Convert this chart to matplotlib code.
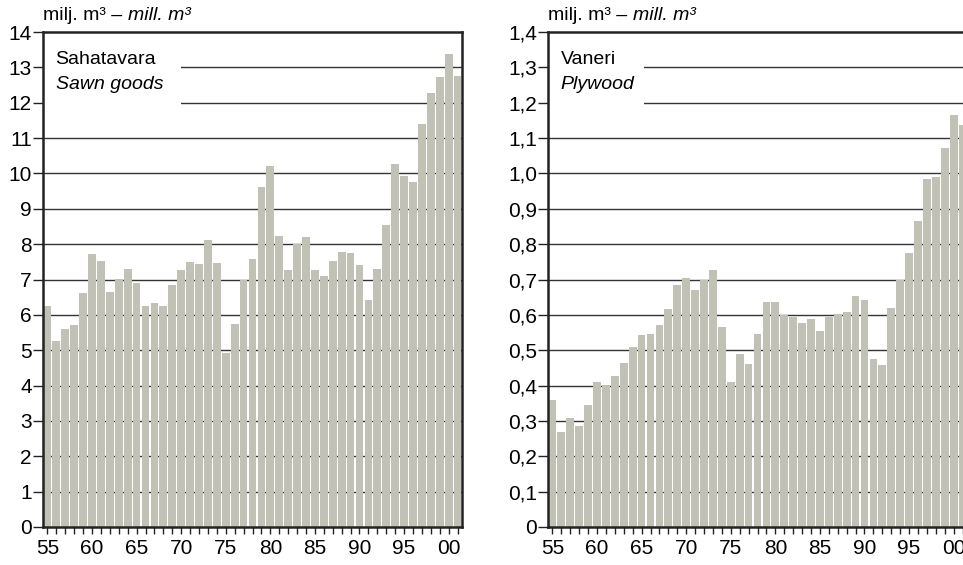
import matplotlib
matplotlib.use("Agg")
import matplotlib.pyplot as plt
from matplotlib.patches import Rectangle
from matplotlib.font_manager import fontManager

names = {f.name for f in fontManager.ttflist}
FONT = "Liberation Sans Narrow" if "Liberation Sans Narrow" in names else "Liberation Sans"
plt.rcParams["font.family"] = [FONT, "DejaVu Sans"]

years = list(range(1955, 2002))

# sawn goods, million m3
sawn = [6.24, 5.26, 5.61, 5.70, 6.62, 7.71, 7.53, 6.64, 7.02, 7.29,
        6.90, 6.25, 6.34, 6.25, 6.85, 7.28, 7.50, 7.44, 8.12, 7.47,
        4.91, 5.74, 6.98, 7.59, 9.62, 10.22, 8.24, 7.28, 7.99, 8.21,
        7.28, 7.09, 7.51, 7.77, 7.75, 7.41, 6.42, 7.30, 8.55, 10.27,
        9.92, 9.76, 11.41, 12.27, 12.74, 13.38, 12.75]

# plywood, million m3
plywood = [0.359, 0.269, 0.308, 0.285, 0.345, 0.409, 0.403, 0.426, 0.464, 0.509,
           0.542, 0.546, 0.571, 0.616, 0.685, 0.703, 0.669, 0.698, 0.727, 0.565,
           0.411, 0.488, 0.460, 0.546, 0.636, 0.636, 0.600, 0.593, 0.577, 0.588,
           0.554, 0.593, 0.603, 0.607, 0.654, 0.641, 0.475, 0.459, 0.618, 0.699,
           0.775, 0.866, 0.985, 0.990, 1.073, 1.166, 1.138]

xtick_years = [1955, 1960, 1965, 1970, 1975, 1980, 1985, 1990, 1995, 2000]
xtick_labels = ["55", "60", "65", "70", "75", "80", "85", "90", "95", "00"]

sawn_ticks = list(range(0, 15))
sawn_labels = [str(v) for v in sawn_ticks]
ply_ticks = [i / 10 for i in range(0, 15)]
ply_labels = ["0"] + [("%.1f" % v).replace(".", ",") for v in ply_ticks[1:]]

BAR = "#c1c1b5"
DARK = "#222222"
W, H = 963, 565

fig = plt.figure(figsize=(W / 100, H / 100), dpi=100)


def panel(x0, values, ymax, ticks, labels, name, name_en, box_w):
    ax = fig.add_axes([x0 / W, 1 - 527 / H, 419 / W, 495 / H])
    ax.bar(years, values, width=0.87, color=BAR, zorder=2)
    ax.set_xlim(1954.5, 2001.5)
    ax.set_ylim(0, ymax)
    ax.set_yticks(ticks)
    ax.set_yticklabels(labels)
    ax.set_xticks(years, minor=True)
    ax.set_xticks(xtick_years)
    ax.set_xticklabels(xtick_labels)
    ax.tick_params(axis="y", direction="out", length=7, width=1, color=DARK,
                   labelsize=15, pad=1)
    ax.tick_params(axis="x", which="both", direction="out", length=5, width=1,
                   color=DARK, labelsize=15, pad=4)
    for t in ticks[1:-1]:
        ax.axhline(t, color="#333333", lw=1.0, zorder=1)
    for s in ax.spines.values():
        s.set_color(DARK)
        s.set_linewidth(1.8)
        s.set_zorder(3)
    ax.add_patch(Rectangle((0, 0.838), box_w, 0.16, transform=ax.transAxes,
                           facecolor="white", edgecolor="none", zorder=1.5))
    ax.text(0.03, 0.945, name, transform=ax.transAxes, fontsize=14,
            va="center", ha="left", zorder=4)
    ax.text(0.03, 0.893, name_en, transform=ax.transAxes, fontsize=14,
            style="italic", va="center", ha="left", zorder=4)
    # unit label above the frame
    t1 = fig.text(x0 / W, 1 - 16 / H, "milj. m³ – ", fontsize=14, va="center")
    fig.canvas.draw()
    bb = t1.get_window_extent()
    fig.text(bb.x1 / W, 1 - 16 / H, "mill. m³", fontsize=14, style="italic",
             va="center")
    return ax


panel(43, sawn, 14, sawn_ticks, sawn_labels, "Sahatavara", "Sawn goods", 0.329)
panel(548, plywood, 1.4, ply_ticks, ply_labels, "Vaneri", "Plywood", 0.229)

fig.savefig("out.png", dpi=100)
